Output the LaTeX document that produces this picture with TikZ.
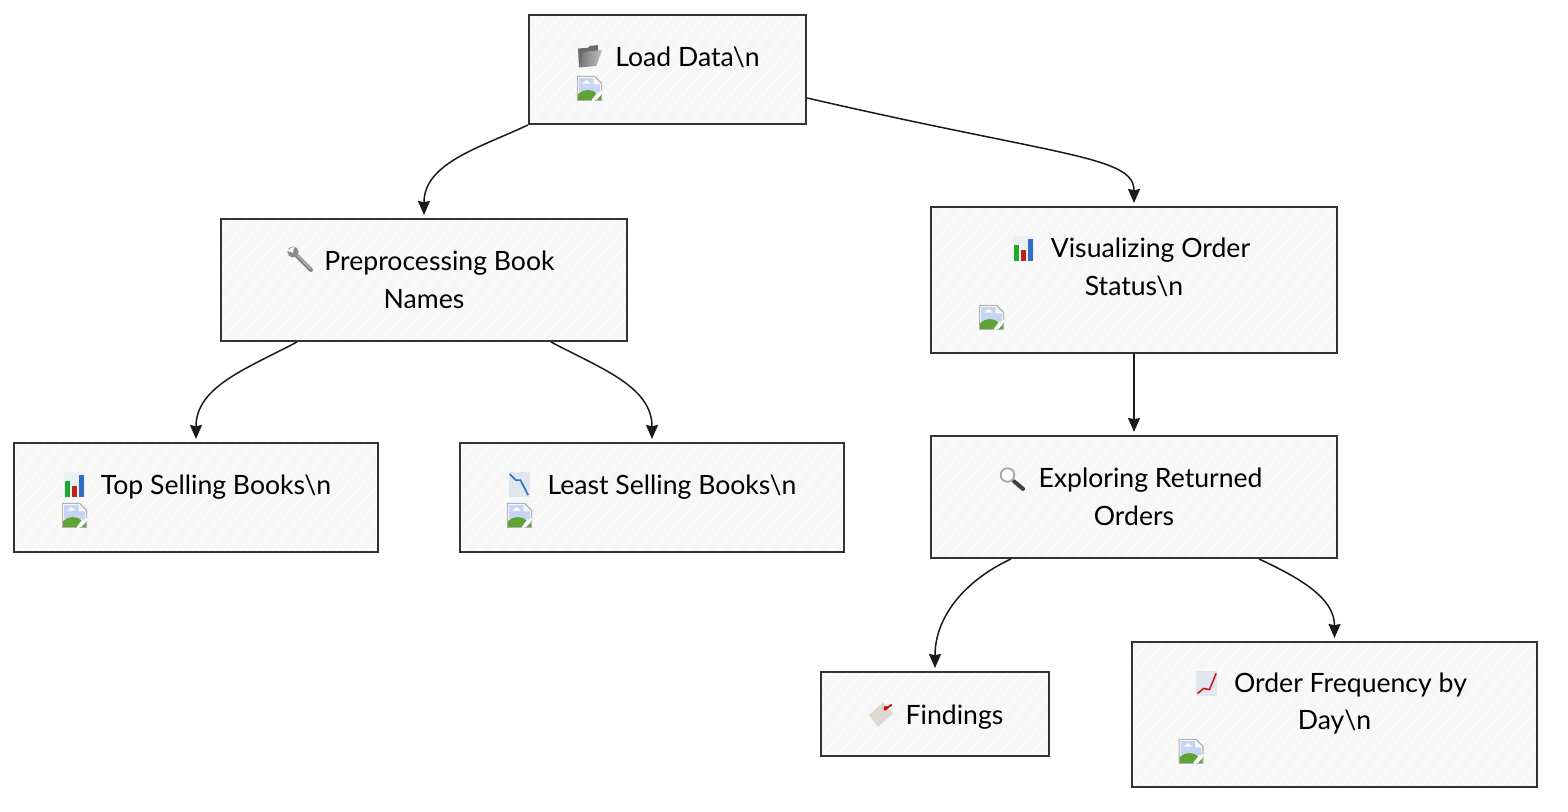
\documentclass[tikz,border=0pt]{standalone}
\usepackage{fontspec}
\setmainfont{Lato}
\usetikzlibrary{positioning,arrows.meta}
\definecolor{boxfill}{HTML}{F7F7F7}
\definecolor{boxline}{HTML}{333333}
\definecolor{inkline}{HTML}{1A1A1A}
\definecolor{iconback}{HTML}{DFE6EE}
\definecolor{barback}{HTML}{ECEFF3}
\definecolor{skyblue}{HTML}{C6D6F2}
\definecolor{hillgreen}{HTML}{5FA336}
\definecolor{bargreen}{HTML}{1FA82E}
\definecolor{barred}{HTML}{C0201A}
\definecolor{barblue}{HTML}{2E6FC4}
\definecolor{tagbeige}{HTML}{DFD8CE}
\newcommand{\nl}{\textbackslash n}
\newcommand{\imgline}{\\[-11.25pt]\strut}
\tikzset{
	box/.style={draw=boxline, line width=1pt, fill=boxfill, align=center, inner sep=0pt,
		font=\fontsize{13.3}{18.75}\selectfont, text=black,
		path picture={
			\foreach \h in {-12,...,30}
				\draw[white, line width=.5pt] ([xshift=\h*8pt]path picture bounding box.south west) -- ++(80pt,90pt);
		}},
	flow/.style={draw=inkline, line width=.75pt, shorten >=1.5pt, -{Stealth[length=7pt,width=6pt,inset=.6pt]}},
	brokenimg/.pic={
		\fill[black!30] (-6.25,-6.25) -- (-6.25,6.25) -- (2.75,6.25) -- (6.25,2.75) -- (6.25,-6.25) -- cycle;
		\fill[black!3] (-5.7,-5.7) -- (-5.7,5.7) -- (2.3,5.7) -- (5.7,2.3) -- (5.7,-5.7) -- cycle;
		\fill[skyblue] (-5.2,-2) -- (-5.2,5.2) -- (2,5.2) -- (2,2) -- (5.2,2) -- (5.2,-2) -- cycle;
		\fill[white] (-3.6,2.4) -- (-1.5,4.2) -- (.6,2.4) -- cycle;
		\fill[hillgreen] (-5.7,-5.7) -- (-5.7,-2.8) .. controls (-2.5,0) and (1.5,-.4) .. (3.5,-2.4) -- (1,-5.7) -- cycle;
		\fill[hillgreen] (3.6,-5.7) -- (5.7,-3.4) -- (5.7,-5.7) -- cycle;
		\draw[white, line width=1pt] (1.6,-6.25) -- (6.25,-1.6);
	},
	foldericon/.pic={
		\fill[black!58] (-5.5,-5.2) -- (-6,4) -- (-1,4.3) -- (0,5.3) -- (4,5.7) -- (4,2.3) -- cycle;
		\shade[left color=black!55, right color=black!25] (-5.5,-5.5) -- (-3.5,2.3) -- (6,3.2) -- (3.2,-4.7) -- cycle;
	},
	barsicon/.pic={
		\fill[barback] (-5.25,-6.25) rectangle (5.25,6.25);
		\fill[bargreen] (-4.8,-6.2) rectangle (-2.1,1.7);
		\fill[barred] (-1.3,-6.2) rectangle (1.1,-.8);
		\fill[barblue] (2.3,-6.2) rectangle (4.9,4.5);
	},
	downicon/.pic={
		\fill[iconback] (-5.25,-6.25) rectangle (5.25,6.25);
		\draw[barblue, line width=.8pt] (-4.8,5.2) -- (-1.8,2.2) -- (.5,2.2) -- (4.3,-5.3);
	},
	upicon/.pic={
		\fill[iconback] (-5.25,-6.25) rectangle (5.25,6.25);
		\draw[barred, line width=.8pt] (-4.5,-5) -- (-1.5,-2.5) -- (1.5,-3) -- (4.8,5);
	},
	wrenchicon/.pic={
		\draw[black!50, line width=2pt, line cap=round] (-3,3) -- (5,-5);
		\draw[black!30, line width=.6pt, line cap=round] (-2.6,3) -- (5,-4.6);
		\fill[black!45] (-4,4) circle (2.8);
		\fill[boxfill] (-7,4.6) -- (-4,3.6) -- (-3.4,7) -- cycle;
	},
	lensicon/.pic={
		\draw[black!75, line width=2pt, line cap=round] (.8,-1.2) -- (5.3,-5);
		\draw[black!35, line width=.9pt, fill=white] (-2.5,2) circle (3.4);
	},
	tagicon/.pic={
		\fill[tagbeige] (-5.8,-.3) -- (1.3,6) -- (6.3,.5) -- (-1.2,-6.2) -- cycle;
		\draw[red!85!black, line width=.9pt, line cap=round] (2,2.4) -- (5.4,4.8);
		\fill[red!85!black] (2.6,3.2) circle (1);
	}
}
\begin{document}
\begin{tikzpicture}[x=1pt, y=1pt]
	\useasboundingbox (0,0) rectangle (784,406);
	\node[box, minimum width=138.5pt, minimum height=54.5pt] (Load) at (333.75,371.25) {\hspace*{20pt}Load Data\nl\imgline};
	\node[box, minimum width=203pt, minimum height=61pt, below = 46.5pt of Load, xshift=-121.75pt] (Prep) {\hspace*{15.5pt}Preprocessing Book\\Names};
	\node[box, minimum width=203pt, minimum height=73pt, below = 40.5pt of Load, xshift=233.25pt] (Viz) {\hspace*{16.5pt}Visualizing Order\\Status\nl\imgline};
	\node[box, minimum width=182pt, minimum height=54.5pt, below = 50pt of Prep, xshift=-114pt] (Top) {\hspace*{20pt}Top Selling Books\nl\imgline};
	\node[box, minimum width=192pt, minimum height=54.5pt, below = 50pt of Prep, xshift=114pt] (Least) {\hspace*{20pt}Least Selling Books\nl\imgline};
	\node[box, minimum width=203pt, minimum height=61pt, below = 40.5pt of Viz] (Explore) {\hspace*{16.5pt}Exploring Returned\\Orders};
	\node[box, minimum width=114pt, minimum height=42pt, text height=11pt, text depth=0pt, below = 56pt of Explore, xshift=-99.5pt] (Findings) {\hspace*{19.5pt}Findings};
	\node[box, minimum width=202.5pt, minimum height=72.5pt, below = 41pt of Explore, xshift=100.25pt] (Freq) {\hspace*{16pt}Order Frequency by\\Day\nl\imgline};

	\pic at ([xshift=-38.75pt, yshift=6.5pt]Load.center) {foldericon};
	\pic at ([xshift=-39pt, yshift=-9.5pt]Load.center) {brokenimg};
	\pic at ([xshift=-61.5pt, yshift=10pt]Prep.center) {wrenchicon};
	\pic at ([xshift=-55.25pt, yshift=15.75pt]Viz.center) {barsicon};
	\pic at ([xshift=-71.25pt, yshift=-18.75pt]Viz.center) {brokenimg};
	\pic at ([xshift=-60.75pt, yshift=6.5pt]Top.center) {barsicon};
	\pic at ([xshift=-60.75pt, yshift=-9pt]Top.center) {brokenimg};
	\pic at ([xshift=-66.25pt, yshift=6.5pt]Least.center) {downicon};
	\pic at ([xshift=-66.25pt, yshift=-9pt]Least.center) {brokenimg};
	\pic at ([xshift=-60.75pt, yshift=9pt]Explore.center) {lensicon};
	\pic at ([xshift=-27.25pt, yshift=-.25pt]Findings.center) {tagicon};
	\pic at ([xshift=-64pt, yshift=15.5pt]Freq.center) {upicon};
	\pic at ([xshift=-71.75pt, yshift=-18.5pt]Freq.center) {brokenimg};

	\draw[flow] (Load.south west) to[out=205, in=90] (Prep.north);
	\draw[flow] ([yshift=-14.25pt]Load.east) to[out=-13, in=90, out distance=130pt, in distance=25pt] (Viz.north);
	\draw[flow] ([xshift=-63.5pt]Prep.south) to[out=208, in=90] (Top.north);
	\draw[flow] ([xshift=63.5pt]Prep.south) to[out=-28, in=90] (Least.north);
	\draw[flow] (Viz) -- (Explore);
	\draw[flow] ([xshift=-61.5pt]Explore.south) to[out=205, in=90] (Findings.north);
	\draw[flow] ([xshift=62.5pt]Explore.south) to[out=-25, in=90] (Freq.north);
\end{tikzpicture}
\end{document}
